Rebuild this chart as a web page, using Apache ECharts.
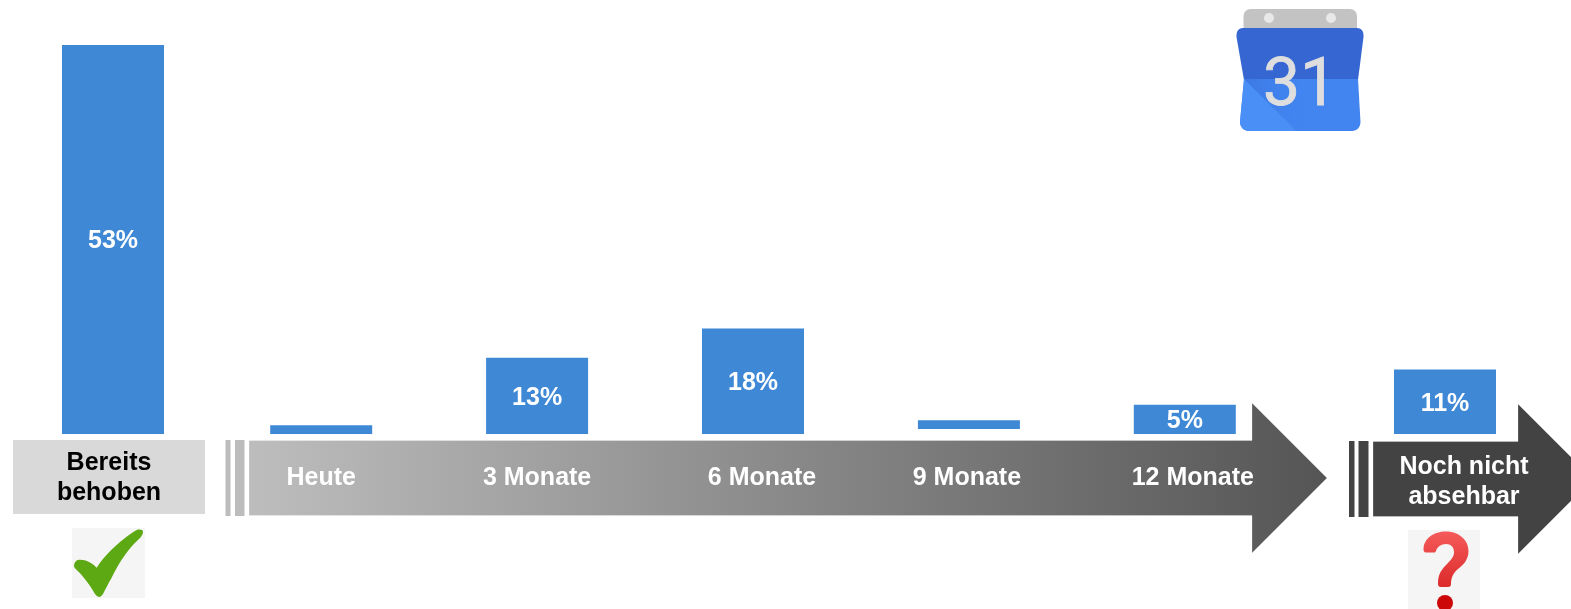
<!DOCTYPE html>
<html>
<head>
<meta charset="utf-8">
<style>html,body{margin:0;padding:0;background:#fff}#chart{width:1571px;height:609px}</style>
<script src="https://cdn.jsdelivr.net/npm/echarts@6/dist/echarts.min.js"></script>
</head>
<body>
<div id="chart"></div>
<script>
// Share of issues by the time a fix is expected.
const fixedCategory = ['Bereits\nbehoben'];
const fixedValues = [53];
const timelineCategories = ['Heute', '3 Monate', '6 Monate', '9 Monate', '12 Monate'];
const timelineValues = [1.5, 13, 18, 1.5, 5];
const timelineLift = [0, 0, 0, 0.85, 0];
const timelineLabelled = [false, true, true, false, true];
const openCategory = ['Noch nicht\nabsehbar'];
const openValues = [11];

const BLUE = '#3e88d6';
const FONT = '"Liberation Sans", Arial, sans-serif';
const BASE_Y = 434;
const SCALE_LEFT = 389 / 53;   // the "already fixed" panel has its own linear scale
const SCALE_RIGHT = 5.86;      // timeline and "not foreseeable" panels share this one
const RIGHT_MAX = 60;

const pctLabel = {
  show: true, position: 'inside', offset: [0, 2], color: '#fff', fontFamily: FONT,
  fontWeight: 'bold', fontSize: 25, formatter: '{c}%'
};
const axisText = {
  interval: 0, hideOverlap: false, fontFamily: FONT, fontWeight: 'bold',
  fontSize: 25, lineHeight: 30, color: '#fff'
};
const hiddenLine = { axisLine: { show: false }, axisTick: { show: false }, splitLine: { show: false } };

// Small nudges that keep the timeline captions placed under their arrow sections
const captionShift = { '6 Monate': 9, '9 Monate': -2, '12 Monate': 8 };
const timelineAxisData = timelineCategories.map(name => {
  const s = captionShift[name] || 0;
  return { value: name, textStyle: { padding: [0, s < 0 ? -2 * s : 0, 0, s > 0 ? 2 * s : 0] } };
});

const arrow = (x0, head, tip, top, bot, hTop, hBot) => [
  [x0, top], [head, top], [head, hTop], [tip, (top + bot) / 2], [head, hBot], [head, bot], [x0, bot]
];

// Icon outlines registered as reusable shapes
const icons = {
  checkMark: 'M74.3 563.7 C75.5 560.5 77.5 559.5 80 559.8 C84 560 87.5 561 90 562.5 C93 564 95 566 96.7 567.7 C100 562.5 104 557.5 108.3 553 C113.5 547.5 119 542.5 125 538 C129 535 132.5 532 136.7 530 C139.5 529 143 529.5 143 532 C143 534 141.5 536 140.5 537.5 C134.5 543 129 549 125 555 C119.5 562 115.5 570 111.5 578 C108 584 105.5 589 103 594 C101.5 596 100.5 597 99.3 597 C98 597 96.5 596 95 594 C92 588.5 88 583 84 578 C81 573.5 77.5 571 74.8 568 C73.8 566.5 73.8 565 74.3 563.7 Z',
  questionHook: 'M1423.5 549 C1424 538 1434 531.5 1446 531.5 C1459 531.5 1468.5 540 1468.5 551 C1468.5 560 1463 565 1458 569 C1453 573 1451 578 1451 584 C1451 586 1450 587 1448 587 L1441 587 C1439 587 1438 586 1438 584 C1438 576 1440 571 1446 565 C1451 560 1454 557 1454 552 C1454 547 1451 544 1446 544 C1441 544 1437 547 1436 551 C1435.5 552 1435 552.5 1434 552.5 L1426 552.5 C1424 552.5 1423.5 551 1423.5 549 Z',
  calendarTop: 'M1243 28 L1357 28 C1361 28 1364 31 1363.5 37 L1358 80 L1244 80 L1236.5 37 C1236 31 1239 28 1243 28 Z',
  calendarBottom: 'M1244 79 L1358 79 L1360.5 122 C1360.5 127 1357 131 1352 131 L1249 131 C1244 131 1240 127 1240 122 Z',
  calendarFold: 'M1244 79 L1292 126 L1296 131 L1249 131 C1244 131 1240 127 1240 122 Z'
};
Object.keys(icons).forEach(name => {
  echarts.graphic.registerShape(name, echarts.graphic.extendPath(icons[name], {}));
});

const decorations = [
  // Grey caption plate on the left
  { type: 'rect', z: -5, shape: { x: 13, y: 440, width: 192, height: 74 }, style: { fill: '#d9d9d9' } },
  // Timeline arrow with its break marks
  { type: 'rect', z: -5, shape: { x: 225.5, y: 440, width: 5, height: 76 }, style: { fill: '#bcbcbc' } },
  { type: 'rect', z: -5, shape: { x: 235, y: 440, width: 9.5, height: 76 }, style: { fill: '#bcbcbc' } },
  { type: 'polygon', z: -5, shape: { points: arrow(249, 1252, 1327, 440.5, 515.5, 403, 553) },
    style: { stroke: 'rgba(255,255,255,0.25)', lineWidth: 1,
      fill: new echarts.graphic.LinearGradient(0, 0, 1, 0, [
        { offset: 0, color: '#bdbdbd' }, { offset: 1, color: '#555555' }]) } },
  // Dark arrow with its break marks
  { type: 'rect', z: -5, shape: { x: 1349, y: 441, width: 5.5, height: 76 }, style: { fill: '#434343' } },
  { type: 'rect', z: -5, shape: { x: 1358.5, y: 441, width: 10, height: 76 }, style: { fill: '#434343' } },
  { type: 'polygon', z: -5, shape: { points: arrow(1373, 1518, 1593, 441.5, 516.5, 404, 554) },
    style: { fill: '#434343', stroke: 'rgba(255,255,255,0.25)', lineWidth: 1 } },

  // Check mark
  { type: 'rect', z: -5, shape: { x: 72, y: 528, width: 73, height: 70 }, style: { fill: '#f5f5f5' } },
  { type: 'checkMark', z: -4, style: { fill: '#5da914' } },

  // Question mark
  { type: 'rect', z: -5, shape: { x: 1408, y: 530, width: 72, height: 79 }, style: { fill: '#f5f5f5' } },
  { type: 'questionHook', z: -4,
    style: { fill: new echarts.graphic.LinearGradient(0, 0, 0, 1, [
        { offset: 0, color: '#f55a5a' }, { offset: 1, color: '#dc2a2a' }]) } },
  { type: 'circle', z: -4, shape: { cx: 1445, cy: 603, r: 8 }, style: { fill: '#cc0808' } },

  // Calendar icon
  { type: 'rect', z: -5, shape: { x: 1243.5, y: 9, width: 113.5, height: 30, r: [7, 7, 0, 0] }, style: { fill: '#c3c3c3' } },
  { type: 'circle', z: -4, shape: { cx: 1269, cy: 18, r: 5 }, style: { fill: '#e8e8e8' } },
  { type: 'circle', z: -4, shape: { cx: 1331, cy: 18, r: 5 }, style: { fill: '#e8e8e8' } },
  { type: 'calendarTop', z: -4, style: { fill: '#3566d2' } },
  { type: 'calendarBottom', z: -4, style: { fill: '#4285f0' } },
  { type: 'calendarFold', z: -3, style: { fill: '#4a8ff5' } },
  { type: 'polygon', z: -3, shape: { points: [[1244, 79], [1300, 79], [1312, 131], [1296, 131]] },
    style: { fill: new echarts.graphic.LinearGradient(0, 0, 1, 0, [
        { offset: 0, color: 'rgba(52,100,210,0.4)' }, { offset: 1, color: 'rgba(66,133,240,0)' }]) } },
  { type: 'text', z: 1, style: { x: 1300, y: 88, text: '31', align: 'center', verticalAlign: 'middle',
      fontFamily: 'Roboto, sans-serif', fontWeight: 400, fontSize: 66, fill: '#dedede',
      stroke: '#dedede', lineWidth: 0.8 } }
];

const option = {
  backgroundColor: '#fff',
  animation: false,
  graphic: { elements: decorations },
  grid: [
    { left: 62, width: 102, top: BASE_Y - 53 * SCALE_LEFT, height: 53 * SCALE_LEFT },
    { left: 213.25, width: 1079.5, top: BASE_Y - RIGHT_MAX * SCALE_RIGHT, height: RIGHT_MAX * SCALE_RIGHT },
    { left: 1394, width: 102, top: BASE_Y - RIGHT_MAX * SCALE_RIGHT, height: RIGHT_MAX * SCALE_RIGHT }
  ],
  xAxis: [
    { type: 'category', gridIndex: 0, data: fixedCategory, ...hiddenLine,
      axisLabel: { ...axisText, color: '#000', margin: 14, padding: [0, 8, 0, 0] } },
    { type: 'category', gridIndex: 1, data: timelineAxisData, ...hiddenLine,
      axisLabel: { ...axisText, margin: 29 } },
    { type: 'category', gridIndex: 2, data: openCategory, ...hiddenLine,
      axisLabel: { ...axisText, margin: 18, padding: [0, 0, 0, 38] } }
  ],
  yAxis: [
    { type: 'value', gridIndex: 0, min: 0, max: 53, show: false },
    { type: 'value', gridIndex: 1, min: 0, max: RIGHT_MAX, show: false },
    { type: 'value', gridIndex: 2, min: 0, max: RIGHT_MAX, show: false }
  ],
  series: [
    { type: 'bar', xAxisIndex: 0, yAxisIndex: 0, data: fixedValues, barWidth: 102,
      itemStyle: { color: BLUE }, label: pctLabel },
    { type: 'bar', xAxisIndex: 1, yAxisIndex: 1, stack: 'timeline', data: timelineLift, barWidth: 102,
      itemStyle: { color: 'transparent' }, silent: true },
    { type: 'bar', xAxisIndex: 1, yAxisIndex: 1, stack: 'timeline', barWidth: 102,
      data: timelineValues.map((v, i) => ({ value: v, label: { show: timelineLabelled[i] } })),
      itemStyle: { color: BLUE }, label: pctLabel },
    { type: 'bar', xAxisIndex: 2, yAxisIndex: 2, data: openValues, barWidth: 102,
      itemStyle: { color: BLUE }, label: pctLabel }
  ]
};

echarts.init(document.getElementById('chart'), null, { renderer: 'canvas' }).setOption(option);
</script>
</body>
</html>
